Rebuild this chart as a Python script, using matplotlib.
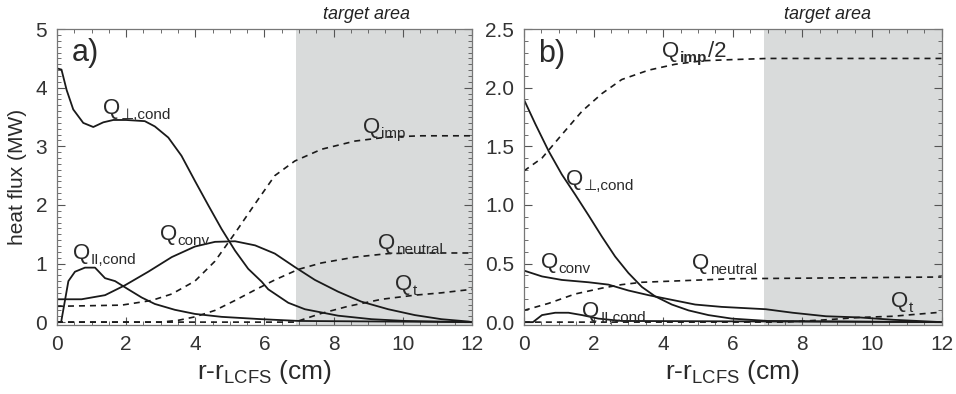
import numpy as np
import matplotlib
matplotlib.use("Agg")
import matplotlib.pyplot as plt
from matplotlib.ticker import MultipleLocator, FormatStrFormatter

plt.rcParams['font.family'] = ['Liberation Sans', 'DejaVu Sans']
plt.rcParams['mathtext.fontset'] = 'custom'
plt.rcParams['mathtext.rm'] = 'Liberation Sans'
plt.rcParams['mathtext.it'] = 'Liberation Sans:italic'
plt.rcParams['mathtext.bf'] = 'Liberation Sans:bold'

# ---- panel a) data (read off the picture) ----
a_perp_x = [0, 0.13, 0.28, 0.47, 0.76, 1.05, 1.34, 1.63, 2.0, 2.54, 2.83, 3.22, 3.6, 3.99, 4.38, 4.76, 5.15,
            5.53, 5.92, 6.11, 6.69, 7.17, 8.13, 9.1, 10.06, 12]
a_perp_y = [4.33, 4.31, 3.96, 3.63, 3.40, 3.33, 3.41, 3.45, 3.45, 3.43, 3.34, 3.15, 2.84, 2.41, 1.99, 1.59, 1.22,
            0.91, 0.69, 0.56, 0.33, 0.22, 0.11, 0.05, 0.02, 0.0]
a_conv_x = [0, 0.71, 1.39, 1.97, 2.64, 3.32, 3.99, 4.57, 5.15, 5.73, 6.30, 6.88, 7.46, 8.13, 8.8, 9.58, 10.35,
            11.12, 11.9, 12]
a_conv_y = [0.39, 0.39, 0.46, 0.63, 0.86, 1.11, 1.29, 1.37, 1.38, 1.31, 1.17, 0.94, 0.72, 0.52, 0.35, 0.22, 0.12,
            0.05, 0.01, 0.0]
a_par_x = [0, 0.12, 0.33, 0.52, 0.81, 1.1, 1.39, 1.68, 2.06, 2.45, 2.83, 3.41, 3.99, 4.76, 5.92, 7.0, 12]
a_par_y = [0, 0, 0.70, 0.86, 0.93, 0.93, 0.75, 0.70, 0.56, 0.42, 0.31, 0.21, 0.14, 0.09, 0.05, 0.02, 0.0]
a_imp_x = [0, 1.87, 2.74, 3.32, 3.99, 4.57, 5.15, 5.73, 6.30, 6.88, 7.65, 8.62, 9.58, 10.55, 12]
a_imp_y = [0.27, 0.29, 0.37, 0.48, 0.70, 1.04, 1.52, 2.02, 2.50, 2.75, 2.95, 3.09, 3.16, 3.18, 3.18]
a_neu_x = [0, 3.0, 3.5, 3.99, 4.57, 5.15, 5.73, 6.30, 6.98, 7.65, 8.62, 9.58, 10.55, 12]
a_neu_y = [0, 0, 0.03, 0.09, 0.20, 0.37, 0.55, 0.72, 0.90, 1.01, 1.11, 1.17, 1.18, 1.18]
a_t_x = [0, 6.88, 7.65, 8.42, 9.39, 10.35, 11.12, 12]
a_t_y = [0, 0, 0.15, 0.27, 0.39, 0.46, 0.50, 0.56]

# ---- panel b) data ----
b_perp_x = [0, 0.33, 0.71, 1.09, 1.47, 1.86, 2.24, 2.62, 3.0, 3.39, 3.77, 4.25, 4.73, 5.3, 5.97, 7.0, 12]
b_perp_y = [1.90, 1.69, 1.46, 1.26, 1.09, 0.91, 0.73, 0.56, 0.42, 0.30, 0.22, 0.15, 0.10, 0.06, 0.03, 0.01, 0.0]
b_conv_x = [0, 0.52, 1.09, 1.86, 2.43, 3.0, 3.58, 4.25, 4.92, 5.68, 6.95, 7.72, 8.68, 9.64, 10.6, 12]
b_conv_y = [0.44, 0.39, 0.36, 0.34, 0.32, 0.27, 0.23, 0.19, 0.15, 0.13, 0.11, 0.08, 0.05, 0.04, 0.02, 0.0]
b_par_x = [0, 0.26, 0.52, 0.9, 1.28, 1.67, 2.14, 2.81, 12]
b_par_y = [0, 0, 0.06, 0.08, 0.08, 0.06, 0.03, 0.01, 0.0]
b_imp_x = [0, 0.52, 1.09, 1.67, 2.24, 2.81, 3.58, 4.34, 5.11, 5.97, 7.0, 12]
b_imp_y = [1.29, 1.40, 1.60, 1.80, 1.95, 2.07, 2.15, 2.20, 2.23, 2.24, 2.25, 2.25]
b_neu_x = [0, 0.71, 1.47, 2.24, 2.81, 3.39, 4.25, 5.97, 12]
b_neu_y = [0.10, 0.16, 0.24, 0.29, 0.32, 0.34, 0.35, 0.37, 0.385]
b_t_x = [0, 7.5, 8.68, 9.64, 10.6, 12]
b_t_y = [0, 0, 0.02, 0.04, 0.05, 0.085]

target_start = 6.9
target_end = 12

fig = plt.figure(figsize=(9.56, 3.94), dpi=100)
ax_a = fig.add_axes([0.0596, 0.175, 0.434, 0.751])
ax_b = fig.add_axes([0.548, 0.175, 0.437, 0.751])

txt = '#2a2a2a'
ink = '#1a1a1a'
dash = (0, (3.6, 3.0))


def style(ax, ymax, ymajor, yminor, fmt, target_x):
    ax.set_xlim(0, 12)
    ax.set_ylim(-0.01 * ymax, ymax)
    ax.axvspan(target_start, target_end, color='#d9dbdb', lw=0, zorder=0)
    ax.xaxis.set_major_locator(MultipleLocator(2))
    ax.xaxis.set_minor_locator(MultipleLocator(0.5))
    ax.yaxis.set_major_locator(MultipleLocator(ymajor))
    ax.yaxis.set_minor_locator(MultipleLocator(yminor))
    ax.yaxis.set_major_formatter(FormatStrFormatter(fmt))
    ax.tick_params(which='both', direction='in', top=True, right=True, colors='#555555',
                   labelcolor='#333333', labelsize=15)
    ax.tick_params(which='major', length=6, width=0.8, pad=7)
    ax.tick_params(which='minor', length=3, width=0.6)
    for s in ax.spines.values():
        s.set_color('#777777')
        s.set_linewidth(0.9)
    ax.set_xlabel(r'r-r$_\mathrm{LCFS}$ (cm)', fontsize=19, color=txt, labelpad=3)
    ax.text(target_x, 1.02, 'target area', transform=ax.get_xaxis_transform(),
            ha='center', va='bottom', fontsize=13, style='italic', color='#222222')


def lab(ax, x, y, sub, tail='', bold=False):
    # "Q" plus a smaller subscript, placed by offset points
    ax.text(x, y, 'Q', fontsize=16, color=txt, ha='left', va='baseline')
    ax.annotate(sub, xy=(x, y), xytext=(12.8, -3.5), textcoords='offset points', fontsize=11,
                color=txt, ha='left', va='baseline', fontweight='bold' if bold else 'normal')
    if tail:
        ax.annotate(tail, xy=(x, y), xytext=(12.8 + 6.6 * len(sub), 0), textcoords='offset points',
                    fontsize=16, color=txt, ha='left', va='baseline')


def curves(ax, sets):
    for xs, ys, dashed in sets:
        if dashed:
            ax.plot(xs, ys, color=ink, lw=1.2, ls=dash)
        else:
            ax.plot(xs, ys, color=ink, lw=1.3)


# panel a
ax = ax_a
style(ax, 5.0, 1, 0.1, '%d', 8.96)
curves(ax, [(a_perp_x, a_perp_y, False), (a_conv_x, a_conv_y, False), (a_par_x, a_par_y, False),
            (a_imp_x, a_imp_y, True), (a_neu_x, a_neu_y, True), (a_t_x, a_t_y, True)])
ax.set_ylabel('heat flux (MW)', fontsize=15, color=txt, labelpad=6)
ax.text(0.42, 4.45, 'a)', fontsize=22, color=txt)
lab(ax, 1.34, 3.55, '\u22a5,cond')
lab(ax, 8.86, 3.22, 'imp')
lab(ax, 2.98, 1.40, 'conv')
lab(ax, 9.29, 1.25, 'neutral')
lab(ax, 0.47, 1.07, 'II,cond')
lab(ax, 9.77, 0.55, 't')

# panel b
ax = ax_b
style(ax, 2.5, 0.5, 0.1, '%.1f', 8.73)
curves(ax, [(b_perp_x, b_perp_y, False), (b_conv_x, b_conv_y, False), (b_par_x, b_par_y, False),
            (b_imp_x, b_imp_y, True), (b_neu_x, b_neu_y, True), (b_t_x, b_t_y, True)])
ax.text(0.42, 2.22, 'b)', fontsize=22, color=txt)
lab(ax, 3.98, 2.26, 'imp', tail='/2', bold=True)
lab(ax, 1.2, 1.17, '\u22a5,cond')
lab(ax, 0.48, 0.46, 'conv')
lab(ax, 4.84, 0.45, 'neutral')
lab(ax, 1.68, 0.045, 'II,cond')
lab(ax, 10.55, 0.13, 't')

fig.savefig('out.png', dpi=100)
